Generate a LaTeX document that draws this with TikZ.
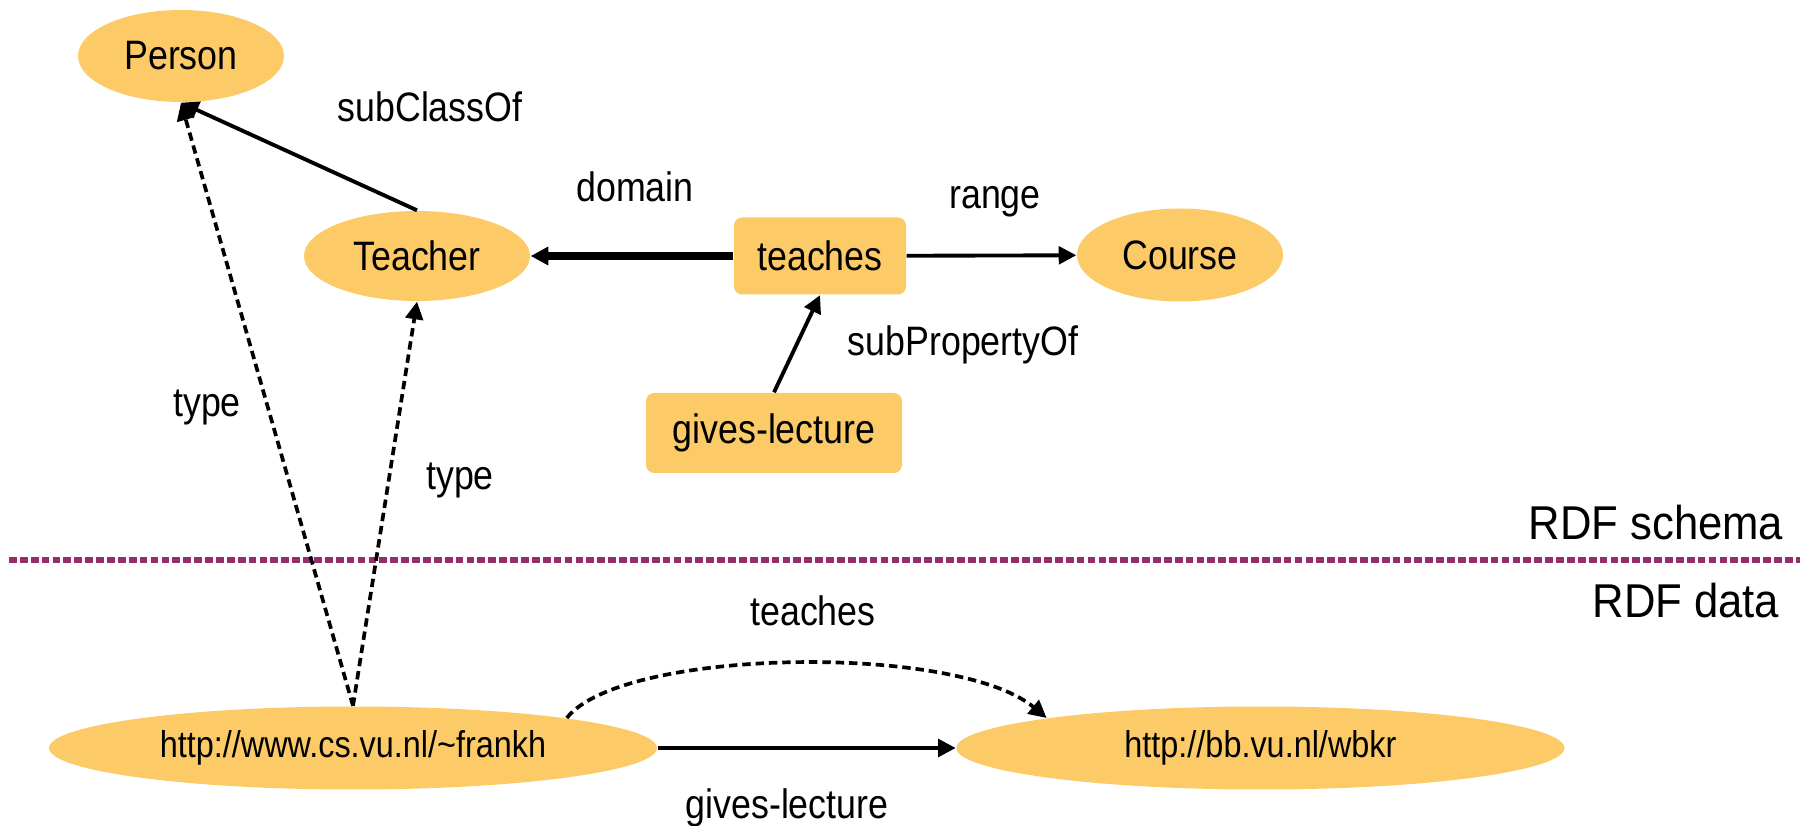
\documentclass[tikz,border=0pt]{standalone}
\usepackage{fontspec}
\setmainfont[FakeStretch=0.87]{Liberation Sans}
\newfontfamily\layerfont[FakeStretch=0.92]{Liberation Sans}
\usepackage{tikz}
\usetikzlibrary{arrows.meta,shapes.geometric,positioning}
\definecolor{nodefill}{RGB}{252,203,104}
\definecolor{layerline}{RGB}{150,45,105}

\begin{document}
\begin{tikzpicture}[every node/.style={inner sep=0pt, font=\fontsize{11.7}{14}\selectfont},
					cls/.style={ellipse, fill=nodefill},
					prop/.style={rectangle, rounded corners=2.3pt, fill=nodefill},
					res/.style={ellipse, fill=nodefill, minimum width=6.08cm, minimum height=0.83cm,
						font=\fontsize{10.6}{13}\selectfont},
					lbl/.style={anchor=base},
					layer/.style={anchor=base east, font=\layerfont\fontsize{13.5}{16}\selectfont},
					rel/.style={line width=1.1pt, -{Triangle[length=5pt,width=5pt]}},
					inst/.style={line width=1.05pt, dash pattern=on 2.4pt off 1.4pt, -{Triangle[length=5pt,width=5pt]}}]
				\useasboundingbox (0,0) rectangle (18,-8.26);
				% schema
				\node[cls, minimum width=2.06cm, minimum height=0.92cm] (person) at (1.81,-0.56) {Person};
				\node[cls, minimum width=2.26cm, minimum height=0.90cm] (teacher) at (4.17,-2.56) {Teacher};
				\node[prop, minimum width=1.72cm, minimum height=0.77cm] (teaches) at (8.20,-2.56) {teaches};
				\node[cls, minimum width=2.06cm, minimum height=0.93cm] (course) at (11.80,-2.55) {Course};
				\node[prop, minimum width=2.56cm, minimum height=0.80cm] (gives) at (7.74,-4.33) {gives-lecture};
				% data
				\node[res] (frankh) at (3.53,-7.48) {http://www.cs.vu.nl/\textasciitilde frankh};
				\node[res, right=2.98cm of frankh] (wbkr) {http://bb.vu.nl/wbkr};
				% labels
				\node[lbl] (subclass) at (4.30,-1.22) {subClassOf};
				\node[lbl] (domain) at (6.35,-2.02) {domain};
				\node[lbl] (range) at (9.95,-2.09) {range};
				\node[lbl] (subprop) at (9.63,-3.56) {subPropertyOf};
				\node[lbl] (typeA) at (2.07,-4.17) {type};
				\node[lbl] (typeB) at (4.60,-4.90) {type};
				\node[lbl] (teachesl) at (8.13,-6.25) {teaches};
				\node[lbl] (givesl) at (7.87,-8.19) {gives-lecture};
				\node[layer] (schema) at (17.84,-5.40) {RDF schema};
				\node[layer] (data) at (17.80,-6.18) {RDF data};
				% border between the layers
				\coordinate (divL) at (0.09,-5.60);
				\coordinate (divR) at (18,-5.60);
				\draw[layerline, line width=1.9pt, dash pattern=on 2.2pt off 0.9pt] (divL) -- (divR);
				\draw[rel] (teacher.north) -- (person.south);
				\draw[rel, line width=2pt] (teaches) -- (teacher);
				\draw[rel] (teaches) -- (course);
				\draw[rel] (gives.north) -- (teaches.south);
				\draw[inst] (frankh.north) -- (person.south);
				\draw[inst] (frankh.north) -- (teacher.south);
				\draw[inst] (frankh.8) .. controls +(0.55,0.7) and +(-0.9,0.75) .. (wbkr.172);
				\draw[rel] (frankh) -- (wbkr);
			\end{tikzpicture}
\end{document}
